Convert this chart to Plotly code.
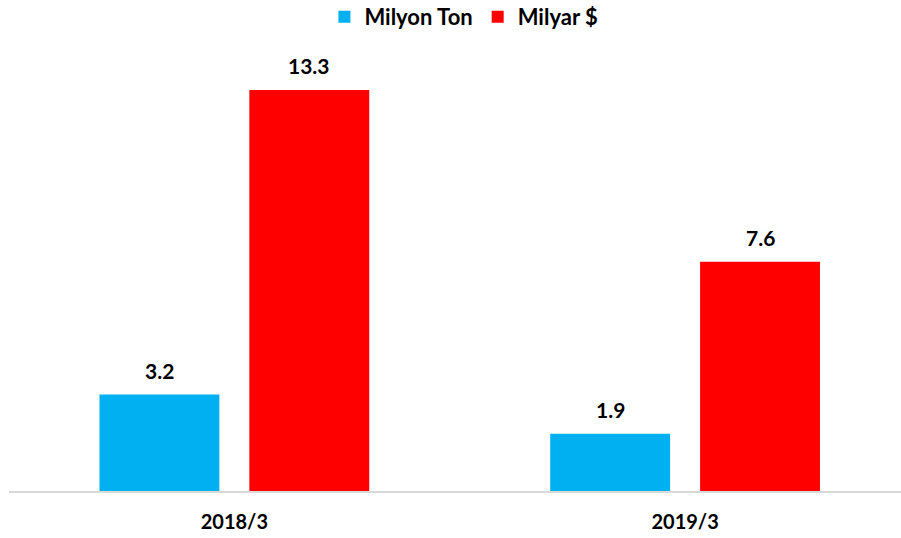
import plotly.graph_objects as go

categories = ["2018/3", "2019/3"]
milyon_ton = [3.2, 1.9]
milyar_usd = [13.3, 7.6]
series_names = ["Milyon Ton", "Milyar $"]
colors = ["#00B0F0", "#FF0000"]

FONT = "Lato, 'Open Sans', Arial, sans-serif"

fig = go.Figure()
for name, vals, col in zip(series_names, [milyon_ton, milyar_usd], colors):
    fig.add_trace(go.Bar(
        x=categories, y=vals, name=name,
        marker=dict(color=col, line=dict(width=0)),
        cliponaxis=False,
    ))

# value labels above bars
for vals, shift in zip([milyon_ton, milyar_usd], [-75, 75]):
    for cat, v in zip(categories, vals):
        fig.add_annotation(x=cat, y=v, xref="x", yref="y", text=f"{v:.1f}",
                           showarrow=False, xshift=shift, yshift=24,
                           yanchor="middle", xanchor="center",
                           font=dict(family=FONT, size=21, color="#000000", weight="bold"))

fig.update_layout(
    width=901, height=538,
    paper_bgcolor="white", plot_bgcolor="white",
    margin=dict(l=8.5, r=0, t=45, b=47, autoexpand=False),
    barmode="group", bargap=0.335, bargroupgap=0.2,
    showlegend=True,
    legend=dict(orientation="h", x=0.51, xanchor="center", y=1.063, yanchor="middle",
                yref="paper",
                font=dict(family=FONT, size=22, color="#000000", weight="bold"),
                itemwidth=30, traceorder="normal"),
    xaxis=dict(range=[-0.5, 1.479], showline=True, linecolor="#D9D9D9", linewidth=2,
               showgrid=False, ticks="outside", ticklen=12, tickcolor="rgba(0,0,0,0)",
               automargin=False,
               tickfont=dict(family=FONT, size=20, color="#000000", weight="bold")),
    yaxis=dict(range=[0, 14.79], visible=False, showgrid=False, zeroline=False,
               automargin=False),
)

fig.write_html("out.html", config={"displayModeBar": False},
               post_script="document.body.style.margin='0';document.body.style.overflow='hidden';")
